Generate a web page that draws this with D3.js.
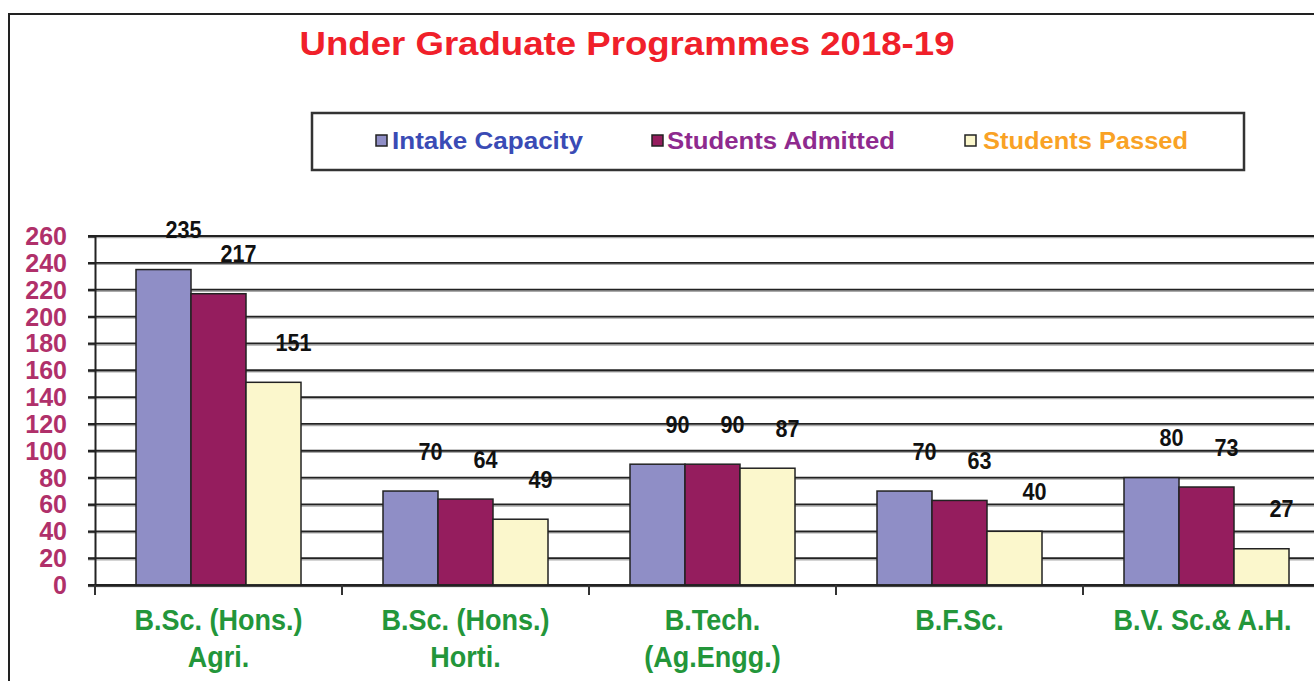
<!DOCTYPE html>
<html><head><meta charset="utf-8">
<script src="https://cdn.jsdelivr.net/npm/d3@7"></script>
<style>body{margin:0;background:#fff;overflow:hidden}</style>
</head><body><svg id="c" width="1314" height="681"></svg>
<script>
const categories = [["B.Sc. (Hons.)","Agri."],["B.Sc. (Hons.)","Horti."],["B.Tech.","(Ag.Engg.)"],["B.F.Sc."],["B.V. Sc.& A.H."]];
const seriesNames = ["Intake Capacity","Students Admitted","Students Passed"];
const intake = [235,70,90,70,80];
const admitted = [217,64,90,63,73];
const passed = [151,49,87,40,27];
const yTicks = [0,20,40,60,80,100,120,140,160,180,200,220,240,260];

const fills = ["#8F8EC6","#951D5E","#FBF7CC"];
const legendText = ["#3A4BB5","#8E2A8E","#F9A225"];
const font = "'Liberation Sans',Arial,sans-serif";

const svg = d3.select("#c");
const series = [intake, admitted, passed];
const keys = categories.map((c,i)=>i);

svg.append("rect").attr("x",9).attr("y",14).attr("width",1400).attr("height",800)
  .attr("fill","#fff").attr("stroke","#222").attr("stroke-width",2);

svg.append("text").attr("x",627).attr("y",55).attr("text-anchor","middle")
  .attr("font-family",font).attr("font-weight","bold")
  .attr("font-size",33).attr("fill","#F0202A").attr("textLength",655).attr("lengthAdjust","spacingAndGlyphs")
  .text("Under Graduate Programmes 2018-19");

// legend
svg.append("rect").attr("x",312).attr("y",113).attr("width",932).attr("height",57)
  .attr("fill","#fff").attr("stroke","#333").attr("stroke-width",2.5);
const legX = [376,652,965], legW = [191,228,205], legTx=[392,667,983];
seriesNames.forEach((n,i)=>{
  svg.append("rect").attr("x",legX[i]).attr("y",135).attr("width",11).attr("height",11)
    .attr("fill",fills[i]).attr("stroke","#222").attr("stroke-width",1.5);
  svg.append("text").attr("x",legTx[i]).attr("y",149).attr("font-family",font).attr("font-weight","bold")
    .attr("font-size",23).attr("fill",legendText[i]).attr("textLength",legW[i]).attr("lengthAdjust","spacingAndGlyphs").text(n);
});

const y = d3.scaleLinear().domain([0,260]).range([585,236]);
const x = d3.scaleBand().domain(keys).range([95,1330]).paddingInner(0).paddingOuter(0);
const barW = 55;
const xs = d3.scaleBand().domain([0,1,2]).range([-82.5,82.5]);

// gridlines
const grid = svg.append("g");
yTicks.forEach(t=>{
  grid.append("line").attr("x1",88).attr("x2",1314).attr("y1",y(t)+1.5).attr("y2",y(t)+1.5)
    .attr("stroke","#aaa").attr("stroke-width",1.5);
  grid.append("line").attr("x1",88).attr("x2",1314).attr("y1",y(t)).attr("y2",y(t))
    .attr("stroke","#222").attr("stroke-width",1.8);
});

// y axis
const yAxis = svg.append("g").attr("transform","translate(95,0)")
  .call(d3.axisLeft(y).tickValues(yTicks).tickSize(7).tickPadding(21));
yAxis.select(".domain").attr("stroke","#222").attr("stroke-width",2);
yAxis.selectAll(".tick line").attr("stroke","#222").attr("stroke-width",1.8);
yAxis.selectAll(".tick text").attr("font-family",font).attr("font-weight","bold")
  .attr("font-size",25).attr("fill","#B0306A").attr("dy","0.34em");

// bars
const g = svg.append("g");
keys.forEach(k=>{
  series.forEach((s,j)=>{
    const cx = x(k)+x.bandwidth()/2 + xs(j);
    g.append("rect").attr("x",cx).attr("y",y(s[k])).attr("width",barW).attr("height",y(0)-y(s[k]))
      .attr("fill",fills[j]).attr("stroke","#222").attr("stroke-width",1.5);
    g.append("text").attr("transform",`translate(${cx+barW/2+20},${y(s[k])-40}) scale(0.9,1)`)
      .attr("dy","0.36em").attr("text-anchor","middle").attr("font-family",font).attr("font-weight","bold")
      .attr("font-size",24).attr("fill","#111").text(s[k]);
  });
});

// x axis
const xAxis = svg.append("g").attr("transform","translate(0,585)")
  .call(d3.axisBottom(x).tickValues([]).tickSizeOuter(0));
xAxis.select(".domain").attr("stroke","#222").attr("stroke-width",2.5);
[1,2,3,4].forEach(k=>{
  svg.append("line").attr("x1",x(k)).attr("x2",x(k)).attr("y1",585).attr("y2",595).attr("stroke","#333").attr("stroke-width",2);
});
svg.append("line").attr("x1",95).attr("x2",95).attr("y1",585).attr("y2",595).attr("stroke","#333").attr("stroke-width",2);

categories.forEach((c,k)=>{
  const cx = x(k)+x.bandwidth()/2 + (k===4?-4:0);
  c.forEach((line,li)=>{
    svg.append("text").attr("transform",`translate(${cx},${630+li*37}) scale(0.9,1)`)
      .attr("text-anchor","middle").attr("font-family",font).attr("font-weight","bold")
      .attr("font-size",30).attr("fill","#23963A").text(line);
  });
});
</script></body></html>
